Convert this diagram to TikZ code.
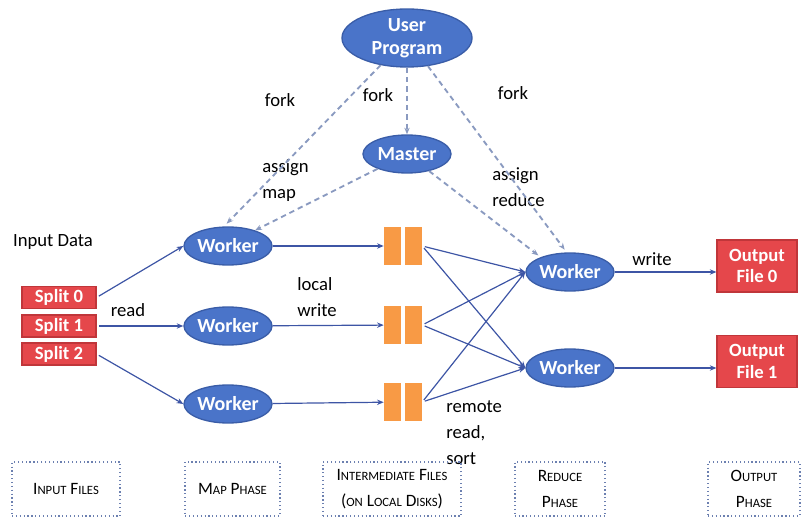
\documentclass[tikz,border=0pt]{standalone}
\usepackage{fontspec}
\setmainfont{Carlito}
\usetikzlibrary{shapes.geometric,arrows.meta,calc}
\definecolor{eblue}{HTML}{4A74C9}
\definecolor{eborder}{HTML}{3A5DA8}
\definecolor{rfill}{HTML}{E5474B}
\definecolor{rborder}{HTML}{C0363A}
\definecolor{ofill}{HTML}{F89A45}
\definecolor{aline}{HTML}{3D55A5}
\definecolor{dline}{HTML}{8A9AC0}
\definecolor{dotc}{HTML}{6C80B0}
\newcommand\fsc[2]{#1{\fontsize{9.5}{10}\selectfont #2}}
\begin{document}
\begin{tikzpicture}[x=0.75pt,y=-0.75pt,
 ell/.style={ellipse, draw=eborder, fill=eblue, line width=1pt, text=white,
   font=\fontsize{15}{15}\selectfont\bfseries, inner sep=0pt,
   minimum width=66pt, minimum height=28.5pt},
 redbox/.style={rectangle, draw=rborder, fill=rfill, line width=0.8pt, text=white,
   font=\fontsize{14}{16}\selectfont\bfseries, inner sep=0pt, align=center},
 barpair/.style={rectangle, inner sep=0pt, minimum width=28.5pt, minimum height=28pt,
   path picture={
     \fill[ofill] (path picture bounding box.north west) rectangle ([xshift=-1.6pt]path picture bounding box.south);
     \fill[ofill] ([xshift=1.6pt]path picture bounding box.north) rectangle (path picture bounding box.south east);}},
 arr/.style={draw=aline, line width=0.9pt, -{Stealth[length=5pt,width=4pt]}},
 darr/.style={draw=dline, line width=1.4pt, dash pattern=on 4pt off 3pt, -{Stealth[length=5pt,width=4pt]}},
 lbl/.style={font=\fontsize{14}{19.5}\selectfont, align=left, inner sep=0pt},
 phase/.style={draw=dotc, line width=1.4pt, dash pattern=on 0.9pt off 2pt, align=center,
   font=\fontsize{13}{19}\selectfont, inner sep=0pt, minimum height=40.5pt}
]
\useasboundingbox (0,0) rectangle (808,531);
% nodes
\node[ell, minimum width=97.5pt, minimum height=43.5pt, align=center, font=\fontsize{15}{17}\selectfont\bfseries] (up) at (407,38) {User\\Program};
\node[ell] (m) at (407,154) {Master};
\node[ell] (w1) at (228,246) {Worker};
\node[ell] (w2) at (228,326) {Worker};
\node[ell] (w3) at (228,404) {Worker};
\node[ell] (r1) at (570,272) {Worker};
\node[ell] (r2) at (570,368) {Worker};
\node[redbox, minimum width=55.5pt, minimum height=16.5pt] (s0) at (59,297.5) {Split 0};
\node[redbox, minimum width=55.5pt, minimum height=16.5pt] (s1) at (59,326) {Split 1};
\node[redbox, minimum width=55.5pt, minimum height=16.5pt] (s2) at (59,354) {Split 2};
\node[barpair] (q1) at (403,246) {};
\node[barpair, minimum height=29pt] (q2) at (403,325) {};
\node[barpair] (q3) at (403,402) {};
\node[redbox, minimum width=60pt, minimum height=39pt] (o0) at (757,266) {Output\\File 0};
\node[redbox, minimum width=60pt, minimum height=38.5pt] (o1) at (757,361.5) {Output\\File 1};
% labels
\node[lbl] (tin) at (53,242) {Input Data};
\node[lbl] (tread) at (128,310) {read};
\node[lbl, anchor=west] (tlw) at (297,297) {local\\write};
\node[lbl, anchor=west] (trr) at (446,433) {remote\\read,\\sort};
\node[lbl] (tf1) at (280,100) {fork};
\node[lbl] (tf2) at (378,95) {fork};
\node[lbl] (tf3) at (513,93) {fork};
\node[lbl, anchor=west] (tam) at (262,181) {assign\\map};
\node[lbl, anchor=west] (tar) at (492,187) {assign\\reduce};
\node[lbl] (tw) at (652,259) {write};
% phases
\node[phase, minimum width=81pt] (p1) at (66,489) {\fsc{I}{NPUT} \fsc{F}{ILES}};
\node[phase, minimum width=71pt] (p2) at (232.5,489) {\fsc{M}{AP} \fsc{P}{HASE}};
\node[phase, minimum width=103.5pt] (p3) at (392,489) {\fsc{I}{NTERMEDIATE} \fsc{F}{ILES}\\(\fsc{}{ON} \fsc{L}{OCAL} \fsc{D}{ISKS})};
\node[phase, minimum width=68pt] (p4) at (560,489) {\fsc{R}{EDUCE}\\\fsc{P}{HASE}};
\node[phase, minimum width=69pt] (p5) at (754,489) {\fsc{O}{UTPUT}\\\fsc{P}{HASE}};
% dashed connectors
\draw[darr] (up) -- ([xshift=-1pt,yshift=2pt]w1.north);
\draw[darr] (up) -- (m);
\draw[darr] (up) -- ([xshift=-4pt,yshift=2pt]r1.north);
\draw[darr] (m) -- (w1.30);
\draw[darr] (m) -- ([yshift=2pt]r1.north west);
% input arrows
\draw[arr, shorten <=2pt] (s0.east) -- (w1.west);
\draw[arr, shorten <=2pt] (s1.east) -- (w2.west);
\draw[arr, shorten <=2pt] (s2.east) -- (w3.west);
% map to intermediate
\draw[arr] (w1) -- (q1);
\draw[arr] (w2) -- (q2);
\draw[arr] (w3) -- (q3);
% intermediate to reduce
\foreach \q in {q1,q2,q3}{
  \draw[arr, shorten <=2pt] (\q.east) -- (r1.west);
  \draw[arr, shorten <=2pt] (\q.east) -- (r2.west);
}
% output
\draw[arr] (r1.east) -- (r1.east -| o0.west);
\draw[arr] (r2.east) -- (r2.east -| o1.west);
\end{tikzpicture}
\end{document}
